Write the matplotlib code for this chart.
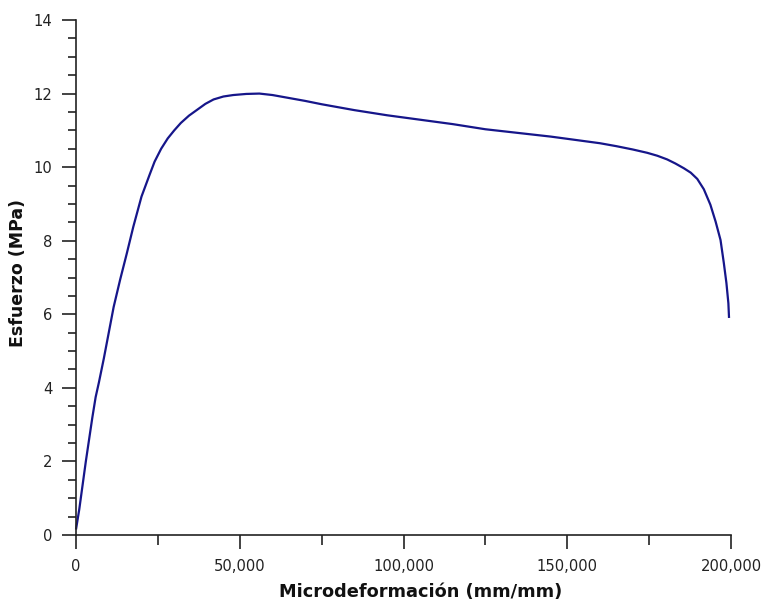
import matplotlib
matplotlib.use("Agg")
import matplotlib.pyplot as plt
from matplotlib.ticker import MultipleLocator, FuncFormatter

plt.rcParams["font.family"] = ["DejaVu Sans"]

strain = [0, 1000, 2000, 3000, 4000, 5000, 6000, 7000, 8500, 10000, 11500, 13500,
          15500, 17500, 20000, 22500, 24000, 26000, 28000, 30000, 32000, 34500,
          37000, 39500, 42000, 45000, 48000, 52000, 56000, 60000, 65000, 70000,
          75000, 80000, 85000, 90000, 95000, 100000, 105000, 110000, 115000,
          120000, 125000, 130000, 135000, 140000, 145000, 150000, 155000, 160000,
          165000, 170000, 174400, 177500, 180500, 183000, 185600, 187700, 189700,
          191700, 193700, 195300, 196800, 197800, 198600, 199200, 199400]
stress = [0.15, 0.7, 1.35, 2.0, 2.6, 3.2, 3.75, 4.15, 4.8, 5.5, 6.2, 6.95,
          7.65, 8.38, 9.2, 9.8, 10.15, 10.5, 10.78, 11.0, 11.2, 11.4,
          11.56, 11.72, 11.84, 11.92, 11.96, 11.99, 12.0, 11.96, 11.88, 11.8,
          11.71, 11.63, 11.55, 11.48, 11.41, 11.35, 11.29, 11.23, 11.17,
          11.1, 11.03, 10.98, 10.93, 10.88, 10.83, 10.77, 10.71, 10.65,
          10.57, 10.48, 10.39, 10.31, 10.21, 10.1, 9.97, 9.85, 9.68,
          9.4, 8.98, 8.52, 8.02, 7.4, 6.85, 6.3, 5.9]

x_ticks = [0, 50000, 100000, 150000, 200000]
y_ticks = [0, 2, 4, 6, 8, 10, 12, 14]

fig = plt.figure(figsize=(7.61, 6.0), dpi=100)
ax = fig.add_axes([76/761, 65/600, (731-76)/761, (535-20)/600])

ax.plot(strain, stress, color="#16168a", linewidth=1.6, solid_joinstyle="round",
        solid_capstyle="butt", clip_on=False)

ax.set_xlim(0, 200000)
ax.set_ylim(0, 14)
ax.set_xticks(x_ticks)
ax.set_yticks(y_ticks)
ax.xaxis.set_minor_locator(MultipleLocator(25000))
ax.yaxis.set_minor_locator(MultipleLocator(0.5))
ax.xaxis.set_major_formatter(FuncFormatter(lambda v, p: f"{int(v):,}"))

for s in ["top", "right"]:
    ax.spines[s].set_visible(False)
for s in ["left", "bottom"]:
    ax.spines[s].set_color("#222222")
    ax.spines[s].set_linewidth(1.2)

ax.tick_params(axis="both", which="major", direction="out", length=10, width=1.2,
               color="#222222", labelsize=10.6, labelcolor="#222222", pad=7)
ax.tick_params(axis="x", which="minor", direction="out", length=7, width=1.2, color="#222222")
ax.tick_params(axis="y", which="minor", direction="out", length=6, width=1.2, color="#222222")

ax.set_xlabel("Microdeformación (mm/mm)", fontsize=12.8, fontweight="bold", color="#111111")
ax.set_ylabel("Esfuerzo (MPa)", fontsize=12.5, fontweight="bold", color="#111111")
ax.xaxis.set_label_coords((421-76)/655, -(583-535)/515)
ax.yaxis.set_label_coords(-(76-27)/655, (535-273)/515)

fig.savefig("out.png", dpi=100)
